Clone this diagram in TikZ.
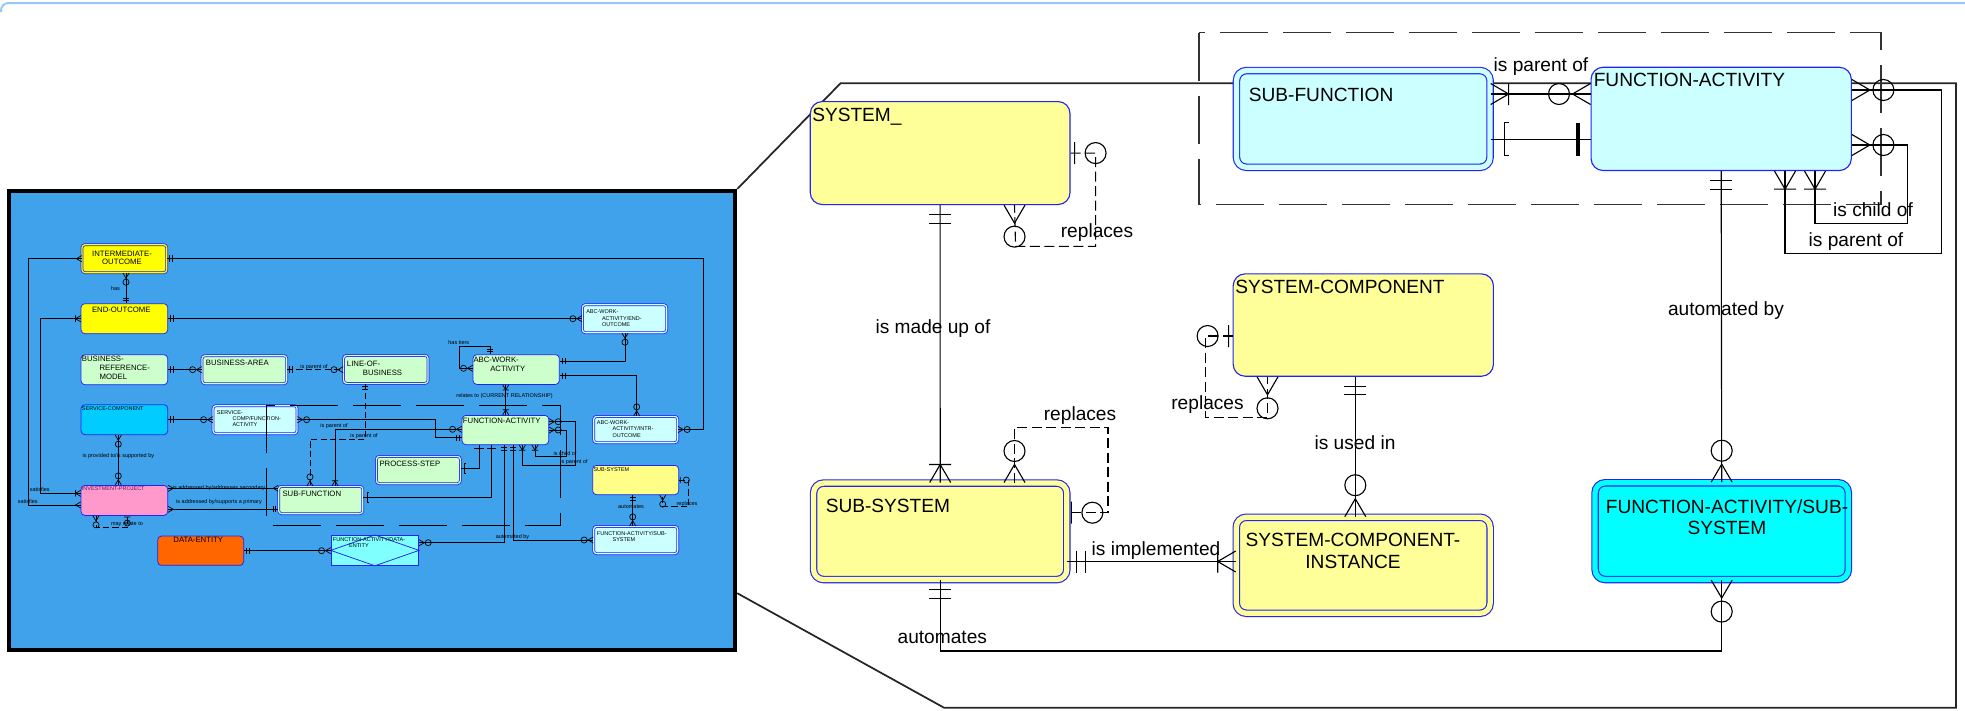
\documentclass[tikz,border=0pt]{standalone}
\usepackage{fontspec}
\setmainfont{Liberation Sans}
\definecolor{entblue}{RGB}{35,35,245}
\definecolor{lyel}{RGB}{255,255,153}
\definecolor{lcyan}{RGB}{204,255,255}
\definecolor{fcyan}{RGB}{0,255,255}
\definecolor{panelblue}{RGB}{63,162,234}
\definecolor{lgreen}{RGB}{204,255,204}
\definecolor{svcblue}{RGB}{0,204,255}
\definecolor{ippink}{RGB}{255,153,204}
\definecolor{iptext}{RGB}{100,20,100}
\definecolor{deorange}{RGB}{255,102,0}
\definecolor{fadecyan}{RGB}{128,255,255}
\definecolor{ssyel}{RGB}{255,255,136}
\definecolor{ioyel}{RGB}{255,255,0}
\definecolor{topblue}{RGB}{150,200,245}
\begin{document}
\begin{tikzpicture}[x=0.8pt, y=-0.8pt,
            ent/.style={draw=entblue, fill=#1, line width=0.9pt, rounded corners=9.6pt, anchor=north west, inner sep=0pt},
            dent/.style={ent=#1, double=#1, double distance=4.2pt, rounded corners=8pt},
            ient/.style={draw=entblue, fill=#1, line width=0.6pt, rounded corners=3pt, anchor=north west, inner sep=0pt},
            dient/.style={ient=#1, double=#1, double distance=1pt, rounded corners=2.4pt},
            etxt/.style={inner sep=0pt, font=\fontsize{15.3}{17.3}\selectfont},
            btxt/.style={inner sep=0pt, font=\fontsize{6.2}{7.2}\selectfont},
            stxt/.style={inner sep=0pt, font=\fontsize{4.4}{5.1}\selectfont},
            rel/.style={line width=0.9pt},
            irel/.style={line width=0.55pt},
            iend/.style={irel, scale=0.29},
            rdash/.style={dash pattern=on 8pt off 3.6pt},
            idash/.style={dash pattern=on 5pt off 2.5pt},
            bdash/.style={dash pattern=on 38.4pt off 12pt},
            pics/crow/.style={code={\draw (0,-10.5) -- (18,0) -- (0,10.5);}},
            pics/zmany/.style={code={\draw (0,-10.5) -- (18,0) -- (0,10.5) (31.5,0) circle[radius=10.5];}},
            pics/omany/.style={code={\draw (0,-10.5) -- (18,0) -- (0,10.5) (18,-11) -- (18,11);}},
            pics/oone/.style={code={\draw (9.5,-11) -- (9.5,11) (18,-11) -- (18,11);}},
            pics/zone/.style={code={\draw (4,-11) -- (4,11) (25,0) circle[radius=10.5];}},
            pics/brack/.style={code={\draw (18.5,-16.5) -- (13.5,-16.5) -- (13.5,16.5) -- (18.5,16.5);}},
            pics/tbar/.style={code={\draw[line width=#1] (12.5,-16.5) -- (12.5,16.5);}},
            pics/tbar/.default=3.6pt]
            \useasboundingbox (0,0) rectangle (1965,710);
            \draw[topblue, line width=1.6pt, rounded corners=6pt] (1,12) -- (1,3) -- (1965,3);
            \node[draw=black, line width=3.4pt, fill=panelblue, anchor=north west, inner sep=0pt, minimum width=580.8pt, minimum height=367.2pt] (panel) at (7,189) {};
            \draw[line width=1.4pt, black!85] (panel.north east) -- (840.5,83.3) -- (1956,83.3) -- (1956,707.7) -- (944,707.7) -- (panel.east |- 0,593.2);
            \draw[bdash, line width=0.9pt, black!80] (1199,32.7) rectangle (1881,204.3);

            \node[ent=lyel, minimum width=207.8pt, minimum height=82.4pt] (sys) at (809.7,101) {};
            \node[dent=lcyan, minimum width=202.9pt, minimum height=77.4pt] (sf) at (1235.9,70) {};
            \node[ent=lcyan, minimum width=208.2pt, minimum height=82.6pt] (fa) at (1590.5,66.7) {};
            \node[ent=lyel, minimum width=208.2pt, minimum height=81.9pt] (sc) at (1232.6,273.3) {};
            \node[dent=lyel, minimum width=202.6pt, minimum height=77.2pt] (subsys) at (813,482.5) {};
            \node[dent=lyel, minimum width=203.1pt, minimum height=76.8pt] (sci) at (1235.7,516.7) {};
            \node[dent=fcyan, minimum width=202.6pt, minimum height=77.4pt] (fass) at (1594.5,482.2) {};
            \node[etxt, anchor=base west] (systxt) at (812,121) {SYSTEM\_};
            \node[etxt, anchor=base west] (sftxt) at (1248.6,101) {SUB-FUNCTION};
            \node[etxt, anchor=base west] (fatxt) at (1593.5,86.7) {FUNCTION-ACTIVITY};
            \node[etxt, anchor=base west] (sctxt) at (1235,293.3) {SYSTEM-COMPONENT};
            \node[etxt, anchor=base west] (subsystxt) at (825.5,512.7) {SUB-SYSTEM};
            \node[etxt, anchor=north, align=center] (scitxt) at (1353,533) {SYSTEM-COMPONENT-\\INSTANCE};
            \node[etxt, anchor=north, align=center] (fasstxt) at (1727,499) {FUNCTION-ACTIVITY/SUB-\\SYSTEM};

            \draw[rel] (sys.south) -- (subsys.north);
            \pic[rel, rotate=-90] at (sys.south) {oone};
            \pic[rel, rotate=90] at (subsys.north) {omany};
            \draw[rel, rdash] (sys.east) -- ++(25,0) |- ++(-80,93.3) -- (sys.south -| 1014.5,0);
            \pic[rel] at (sys.east) {zone};
            \pic[rel, rotate=-90] at (sys.south -| 1014.5,0) {zmany};
            \draw[rel, rdash] (subsys.north -| 1014.5,0) -- ++(0,-55.2) -| ++(93.5,85.4) -- (subsys.east |- 0,512.7);
            \pic[rel, rotate=90] at (subsys.north -| 1014.5,0) {zmany};
            \pic[rel] at (subsys.east |- 0,512.7) {zone};
            \draw[rel] (subsys.east |- 0,561.5) -- (sci.west |- 0,561.5);
            \pic[rel] at (subsys.east |- 0,561.5) {oone};
            \pic[rel, rotate=180] at (sci.west |- 0,561.5) {omany};
            \draw[rel, rdash] (sc.west |- 0,336) -- ++(-26.8,0) |- ++(61.7,81.3) -- (sc.south -| 1267.5,0);
            \pic[rel, rotate=180] at (sc.west |- 0,336) {zone};
            \pic[rel, rotate=-90] at (sc.south -| 1267.5,0) {zmany};
            \draw[rel] (sc.south -| 1355.3,0) -- (sci.north -| 1355.3,0);
            \pic[rel, rotate=-90] at (sc.south -| 1355.3,0) {oone};
            \pic[rel, rotate=90] at (sci.north -| 1355.3,0) {zmany};
            \draw[rel] (sf.east |- 0,94) -- (fa.west |- 0,94);
            \pic[rel] at (sf.east |- 0,94) {omany};
            \pic[rel, rotate=180] at (fa.west |- 0,94) {zmany};
            \draw[rel] (sf.east |- 0,139.3) -- (fa.west |- 0,139.3);
            \pic[rel] at (sf.east |- 0,139.3) {brack};
            \pic[rel, rotate=180] at (fa.west |- 0,139.3) {tbar};
            \draw[rel] (fa.east |- 0,90) -| ++(89.2,163.3) -| (fa.south -| 1785,0);
            \draw[rel] (fa.east |- 0,145) -| ++(55.2,78.3) -| (fa.south -| 1815,0);
            \pic[rel] at (fa.east |- 0,90) {zmany};
            \pic[rel] at (fa.east |- 0,145) {zmany};
            \pic[rel, rotate=-90] at (fa.south -| 1785,0) {omany};
            \pic[rel, rotate=-90] at (fa.south -| 1815,0) {omany};
            \draw[rel] (fa.south) -- (fass.north);
            \pic[rel, rotate=-90] at (fa.south) {oone};
            \pic[rel, rotate=90] at (fass.north) {zmany};
            \draw[rel] (subsys.south) |- (fass.south |- 0,651) -- (fass.south);
            \pic[rel, rotate=-90] at (subsys.south) {oone};
            \pic[rel, rotate=-90] at (fass.south) {zmany};

            \node[etxt, anchor=base] (lmade) at (933,333) {is made up of};
            \node[etxt, anchor=base] (lrepl1) at (1097,237.3) {replaces};
            \node[etxt, anchor=base] (lpar1) at (1541,71.7) {is parent of};
            \node[etxt, anchor=base] (lchild) at (1873,216.7) {is child of};
            \node[etxt, anchor=base] (lpar2) at (1856,246) {is parent of};
            \node[etxt, anchor=base] (lauto1) at (1726,315) {automated by};
            \node[etxt, anchor=base] (lrepl2) at (1207.5,409.3) {replaces};
            \node[etxt, anchor=base] (lused) at (1355,449) {is used in};
            \node[etxt, anchor=base] (lrepl3) at (1080,420) {replaces};
            \node[etxt, anchor=base] (limpl) at (1156,555) {is implemented};
            \node[etxt, anchor=base] (lauto2) at (942.3,643.3) {automates};

            \node[dient=ioyel, minimum width=67.7pt, minimum height=22.4pt] (io) at (81.7,244.3) {};
            \node[ient=ioyel, minimum width=69.3pt, minimum height=24pt] (eo) at (80.7,303.3) {};
            \node[ient=lgreen, minimum width=69.3pt, minimum height=24pt] (brm) at (80.7,354.3) {};
            \node[dient=lgreen, minimum width=67.7pt, minimum height=22.4pt] (ba) at (201.7,355.3) {};
            \node[dient=lgreen, minimum width=67.5pt, minimum height=22.4pt] (lob) at (343.2,355) {};
            \node[ient=svcblue, minimum width=69.3pt, minimum height=24pt] (svc) at (80.7,404.3) {};
            \node[dient=lcyan, minimum width=67.2pt, minimum height=22.4pt] (scfa) at (212.7,405.3) {};
            \node[ient=ippink, minimum width=69.3pt, minimum height=24pt] (ip) at (80.7,485) {};
            \node[dient=lgreen, minimum width=67.3pt, minimum height=21.8pt] (sfi) at (278.3,486) {};
            \node[dient=lcyan, minimum width=67.4pt, minimum height=22.4pt] (awaeo) at (582,304.3) {};
            \node[ient=lgreen, minimum width=69pt, minimum height=23.8pt] (awa) at (472.7,354.3) {};
            \node[dient=lcyan, minimum width=67.2pt, minimum height=21pt] (awaio) at (593.3,416) {};
            \node[ient=lgreen, minimum width=69.3pt, minimum height=23.4pt] (fai) at (461.7,415) {};
            \node[dient=lgreen, minimum width=67.2pt, minimum height=21.8pt] (ps) at (376,456) {};
            \node[ient=ssyel, minimum width=68.8pt, minimum height=23.4pt] (ssi) at (592.3,465) {};
            \node[dient=lcyan, minimum width=67.2pt, minimum height=21.8pt] (fassi) at (593.3,526) {};
            \node[ient=deorange, minimum width=68.8pt, minimum height=23.4pt] (de) at (157.3,535.7) {};
            \node[draw=entblue, fill=fadecyan, line width=0.6pt, anchor=north west, inner sep=0pt, minimum width=70.1pt, minimum height=24pt] (fade) at (330.7,535) {};
            \draw[entblue, line width=0.6pt] (fade.west) -- (fade.north) -- (fade.east) -- (fade.south) -- cycle;

            \node[btxt, anchor=north, align=center, font=\fontsize{6.2}{6.6}\selectfont] (iotxt) at (122,250.5) {INTERMEDIATE-\\OUTCOME};
            \node[btxt, anchor=base] (eotxt) at (121.3,312.3) {END-OUTCOME};
            \node[btxt, anchor=north west, align=left] (brmtxt) at (81.7,356.2) {BUSINESS-\\\hspace*{14.1pt}REFERENCE-\\\hspace*{14.1pt}MODEL};
            \node[btxt, anchor=base west] (batxt) at (205.7,365.7) {BUSINESS-AREA};
            \node[btxt, anchor=north west, align=left] (lobtxt) at (346.7,360.5) {LINE-OF-\\\hspace*{12.8pt}BUSINESS};
            \node[stxt, anchor=base west] (svctxt) at (81.7,410) {SERVICE-COMPONENT};
            \node[stxt, anchor=north west, align=left] (scfatxt) at (216.7,410.1) {SERVICE-\\\hspace*{12.5pt}COMP/FUNCTION-\\\hspace*{12.5pt}ACTIVITY};
            \node[stxt, anchor=base west, text=iptext] (iptxt) at (81.7,490.7) {INVESTMENT-PROJECT};
            \node[btxt, anchor=base west] (sfitxt) at (282.3,496.7) {SUB-FUNCTION};
            \node[stxt, anchor=north west, align=left] (awaeotxt) at (586,309.8) {ABC-WORK-\\\hspace*{12.6pt}ACTIVITY/END-\\\hspace*{12.6pt}OUTCOME};
            \node[btxt, anchor=north west, align=left] (awatxt) at (473.3,356.5) {ABC-WORK-\\\hspace*{13.4pt}ACTIVITY};
            \node[stxt, anchor=north west, align=left] (awaiotxt) at (596.7,420.4) {ABC-WORK-\\\hspace*{12.5pt}ACTIVITY/INTR-\\\hspace*{12.5pt}OUTCOME};
            \node[btxt, anchor=base west] (faitxt) at (462.7,423.3) {FUNCTION-ACTIVITY};
            \node[btxt, anchor=base west] (pstxt) at (379.3,466.7) {PROCESS-STEP};
            \node[stxt, anchor=base west] (ssitxt) at (593.3,471) {SUB-SYSTEM};
            \node[stxt, anchor=north west, align=left] (fassitxt) at (596.7,530.8) {FUNCTION-ACTIVITY/SUB-\\\hspace*{12.5pt}SYSTEM};
            \node[btxt, anchor=base] (detxt) at (198.3,542.7) {DATA-ENTITY};
            \node[stxt, anchor=north west, align=left] (fadetxt) at (332.7,536.8) {FUNCTION-ACTIVITY/DATA-\\\hspace*{13pt}ENTITY};
            \draw[bdash, line width=0.6pt] (266.7,405) rectangle (560.3,525);

            \draw[irel] (io.south -| 126,0) -- (eo.north -| 126,0);
            \pic[iend, rotate=-90] at (io.south -| 126,0) {zmany};
            \pic[iend, rotate=90] at (eo.north -| 126,0) {oone};
            \draw[irel] (io.east) -| (awaio.east -| 703.3,0) -- (awaio.east);
            \pic[iend] at (io.east) {oone};
            \pic[iend] at (awaio.east) {zmany};
            \draw[irel] (eo.east) -- (awaeo.west);
            \pic[iend] at (eo.east) {oone};
            \pic[iend, rotate=180] at (awaeo.west) {zmany};
            \draw[irel] (eo.west) -| (40,493.3) -- (ip.west |- 0,493.3);
            \pic[iend, rotate=180] at (eo.west) {omany};
            \pic[iend, rotate=180] at (ip.west |- 0,493.3) {omany};
            \draw[irel] (io.west) -| (28.3,505) -- (ip.west |- 0,505);
            \pic[iend, rotate=180] at (io.west) {crow};
            \pic[iend, rotate=180] at (ip.west |- 0,505) {crow};
            \draw[irel] (brm.east) -- (ba.west);
            \pic[iend] at (brm.east) {oone};
            \pic[iend, rotate=180] at (ba.west) {zmany};
            \draw[irel, idash] (ba.east) -- (ba.east -| lob.west);
            \pic[iend] at (ba.east) {oone};
            \pic[iend, rotate=180] at (ba.east -| lob.west) {zmany};
            \draw[irel] (svc.east) -- (scfa.west);
            \pic[iend] at (svc.east) {oone};
            \pic[iend, rotate=180] at (scfa.west) {zmany};
            \draw[irel] (svc.south -| 118.3,0) -- (ip.north -| 118.3,0);
            \pic[iend, rotate=-90] at (svc.south -| 118.3,0) {zmany};
            \pic[iend, rotate=90] at (ip.north -| 118.3,0) {zmany};
            \draw[irel] (ip.east |- 0,488.3) -- (sfi.west |- 0,488.3);
            \pic[iend] at (ip.east |- 0,488.3) {crow};
            \pic[iend, rotate=180] at (sfi.west |- 0,488.3) {crow};
            \draw[irel] (ip.east |- 0,509.3) -- (sfi.west |- 0,509.3);
            \pic[iend] at (ip.east |- 0,509.3) {crow};
            \pic[iend, rotate=180] at (sfi.west |- 0,509.3) {oone};
            \draw[irel, idash] (ip.south -| 96,0) -- ++(0,11.7) -| (ip.south -| 127.3,0);
            \pic[iend, rotate=-90] at (ip.south -| 96,0) {zmany};
            \pic[iend, rotate=-90] at (ip.south -| 127.3,0) {zone};
            \draw[irel] (scfa.east) -| (435.2,437.7) -- (fai.west |- 0,437.7);
            \pic[iend] at (scfa.east) {zmany};
            \pic[iend, rotate=180] at (fai.west |- 0,437.7) {oone};
            \draw[irel, idash] (lob.south -| 365,0) |- (310,439.3) -- (sfi.north -| 310,0);
            \pic[iend, rotate=-90] at (lob.south -| 365,0) {oone};
            \pic[iend, rotate=90] at (sfi.north -| 310,0) {zmany};
            \draw[irel] (fai.west |- 0,429.3) -| (sfi.north -| 335,0);
            \pic[iend, rotate=180] at (fai.west |- 0,429.3) {zmany};
            \pic[iend, rotate=90] at (sfi.north -| 335,0) {omany};
            \draw[irel] (awa.south -| 505.7,0) -- (fai.north -| 505.7,0);
            \pic[iend, rotate=-90] at (awa.south -| 505.7,0) {omany};
            \pic[iend, rotate=90] at (fai.north -| 505.7,0) {omany};
            \draw[irel] (awa.north -| 490,0) |- (459.3,346.7) |- (awa.west |- 0,368.3);
            \pic[iend, rotate=90] at (awa.north -| 490,0) {oone};
            \pic[iend, rotate=180] at (awa.west |- 0,368.3) {zmany};
            \draw[irel] (awa.east |- 0,361) -| (awaeo.south -| 625,0);
            \pic[iend] at (awa.east |- 0,361) {oone};
            \pic[iend, rotate=-90] at (awaeo.south -| 625,0) {zmany};
            \draw[irel] (awa.east |- 0,375.7) -| (awaio.north -| 636.7,0);
            \pic[iend] at (awa.east |- 0,375.7) {oone};
            \pic[iend, rotate=90] at (awaio.north -| 636.7,0) {zmany};
            \draw[irel] (fai.east |- 0,421.7) -| (575,465) -| (fai.south -| 522.3,0);
            \draw[irel] (fai.east |- 0,430) -| (566.7,456.7) -| (fai.south -| 535,0);
            \pic[iend] at (fai.east |- 0,421.7) {zmany};
            \pic[iend] at (fai.east |- 0,430) {zmany};
            \pic[iend, rotate=-90] at (fai.south -| 522.3,0) {omany};
            \pic[iend, rotate=-90] at (fai.south -| 535,0) {omany};
            \draw[irel] (ps.east |- 0,468.3) -| (fai.south -| 479,0);
            \pic[iend] at (ps.east |- 0,468.3) {brack};
            \pic[iend, rotate=-90] at (fai.south -| 479,0) {tbar=1.2pt};
            \draw[irel] (sfi.east |- 0,497.3) -| (fai.south -| 491.7,0);
            \pic[iend] at (sfi.east |- 0,497.3) {brack};
            \pic[iend, rotate=-90] at (fai.south -| 491.7,0) {tbar=1.2pt};
            \draw[irel] (fai.south -| 504,0) |- (fade.east |- 0,542.7);
            \pic[iend, rotate=-90] at (fai.south -| 504,0) {oone};
            \pic[iend] at (fade.east |- 0,542.7) {zmany};
            \draw[irel] (fai.south -| 513.3,0) |- (fassi.west |- 0,540);
            \pic[iend, rotate=-90] at (fai.south -| 513.3,0) {oone};
            \pic[iend, rotate=180] at (fassi.west |- 0,540) {zmany};
            \draw[irel] (de.east |- 0,550.7) -- (fade.west |- 0,550.7);
            \pic[iend] at (de.east |- 0,550.7) {oone};
            \pic[iend, rotate=180] at (fade.west |- 0,550.7) {zmany};
            \draw[irel] (ssi.south -| 632.7,0) -- (fassi.north -| 632.7,0);
            \pic[iend, rotate=-90] at (ssi.south -| 632.7,0) {oone};
            \pic[iend, rotate=90] at (fassi.north -| 632.7,0) {zmany};
            \draw[irel, idash] (ssi.east |- 0,480) -- ++(9.4,0) |- (662.7,506.7) -- (ssi.south -| 662.7,0);
            \pic[iend] at (ssi.east |- 0,480) {zone};
            \pic[iend, rotate=-90] at (ssi.south -| 662.7,0) {zmany};

            \node[stxt, anchor=base] (lhas) at (115.5,290) {has};
            \node[stxt, anchor=base] (lsat1) at (39.7,491.7) {satisfies};
            \node[stxt, anchor=base] (lsat2) at (27.8,503.3) {satisfies};
            \node[stxt, anchor=base] (lpar3) at (314,368.3) {is parent of};
            \node[stxt, anchor=base] (lprov) at (118.3,457.3) {is provided to/is supported by};
            \node[stxt, anchor=base] (lsec) at (219,489.7) {is addressed by/addresses secondary};
            \node[stxt, anchor=base] (lprim) at (219,503.3) {is addressed by/supports a primary};
            \node[stxt, anchor=base] (lmay) at (127,525.7) {may relate to};
            \node[stxt, anchor=base] (lpar4) at (334,427.3) {is parent of};
            \node[stxt, anchor=base] (lpar5) at (364,437.5) {is parent of};
            \node[stxt, anchor=base] (ltiers) at (458.8,344.3) {has tiers};
            \node[stxt, anchor=base] (lrelto) at (504.5,397) {relates to (CURRENT RELATIONSHIP)};
            \node[stxt, anchor=base] (lchild2) at (565,455) {is child of};
            \node[stxt, anchor=base] (lpar6) at (574,463.3) {is parent of};
            \node[stxt, anchor=base] (lauto3) at (512.5,538.7) {automated by};
            \node[stxt, anchor=base] (lauto4) at (631,508.7) {automates};
            \node[stxt, anchor=base] (lrepl4) at (687,505.3) {replaces};
\end{tikzpicture}
\end{document}
